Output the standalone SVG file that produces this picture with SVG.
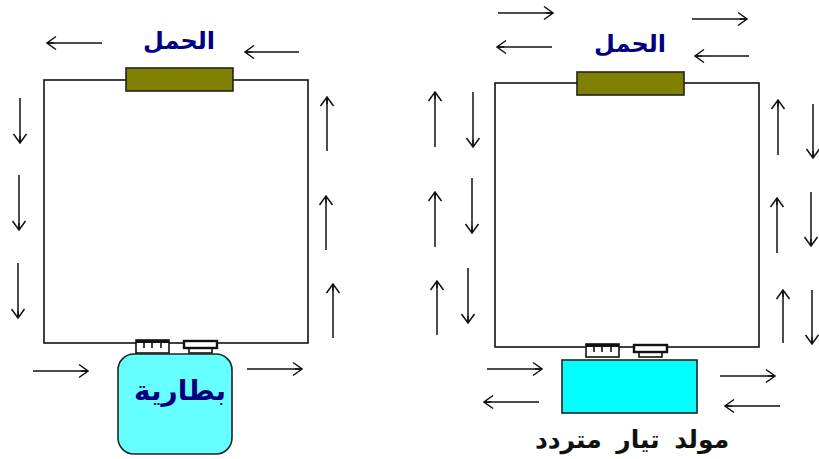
<svg xmlns="http://www.w3.org/2000/svg" width="819" height="459" viewBox="0 0 819 459">
<style>
.w{fill:none;stroke:#111;stroke-width:1.6}
.a{fill:none;stroke:#111;stroke-width:1.5;marker-end:url(#h)}
.load{fill:#808000;stroke:#222;stroke-width:1.6}
.cell{fill:#fff;stroke:#111;stroke-width:1.6}
.t{font-family:"Noto Sans","DejaVu Sans",sans-serif;font-weight:700;text-anchor:middle}
.navy{fill:#000080;font-size:24px}
</style>
<defs>
<marker id="h" viewBox="0 0 14 16" refX="13" refY="8" markerWidth="14" markerHeight="16" markerUnits="userSpaceOnUse" orient="auto"><path d="M4 1.5L13 8L4 14.500M6 8H13" fill="none" stroke="#111" stroke-width="1.5"/></marker>
<g id="plus"><rect class="cell" x="0" y="0" width="33" height="13"/><path d="M0 1.500H33" fill="none" stroke="#111" stroke-width="3"/><path class="w" d="M8 2V8M16 2V8M25 2V8"/></g>
<g id="minus"><rect class="cell" x="5" y="7" width="23" height="6"/><rect class="cell" x="0" y="1" width="33" height="7" style="stroke-width:2.400"/></g>
</defs>
<g id="connectors">
<rect class="w" x="44" y="80" width="264" height="263"/>
<rect class="w" x="495" y="83" width="264" height="264"/>
<path class="a" d="M102 43H47"/><path class="a" d="M299 52H245"/>
<path class="a" d="M20 98V143"/><path class="a" d="M19 175V230"/><path class="a" d="M18 263V318"/>
<path class="a" d="M327 151V97"/><path class="a" d="M326 250V196"/><path class="a" d="M333 338V284"/>
<path class="a" d="M33 371H88"/><path class="a" d="M247 369H302"/>
<path class="a" d="M498 13H553"/><path class="a" d="M692 19H747"/><path class="a" d="M552 47H497"/><path class="a" d="M749 56H695"/>
<path class="a" d="M435 147V92"/><path class="a" d="M435 247V192"/><path class="a" d="M437 335V281"/>
<path class="a" d="M473 92V147"/><path class="a" d="M472 178V233"/><path class="a" d="M468 268V323"/>
<path class="a" d="M778 155V100"/><path class="a" d="M777 253V198"/><path class="a" d="M783 343V290"/>
<path class="a" d="M813 104V158"/><path class="a" d="M811 192V246"/><path class="a" d="M812 290V344"/>
<path class="a" d="M487 369H542"/><path class="a" d="M539 402H484"/><path class="a" d="M720 376H775"/><path class="a" d="M780 406H725"/>
</g>
<g id="load-left"><rect class="load" x="126" y="68" width="107" height="23"/><text class="t navy" x="179" y="49" direction="rtl">الحمل</text></g>
<g id="load-right"><rect class="load" x="577" y="72" width="107" height="23"/><text class="t navy" x="630" y="52" direction="rtl">الحمل</text></g>
<g id="battery">
<use href="#plus" x="136" y="340"/><use href="#minus" x="184" y="340"/>
<rect x="118" y="354" width="114" height="100" rx="16" fill="#66ffff" stroke="#222" stroke-width="1.6"/>
<text class="t navy" x="180" y="400" style="font-size:28px" direction="rtl">بطارية</text>
</g>
<g id="generator">
<use href="#plus" x="586" y="344"/><use href="#minus" x="634" y="344"/>
<rect x="562" y="360" width="135" height="53" fill="#00ffff" stroke="#222" stroke-width="1.6"/>
<text class="t" x="632" y="448" font-size="25" word-spacing="8" letter-spacing="1.5" fill="#111" direction="rtl">مولد تيار متردد</text>
</g>
</svg>
